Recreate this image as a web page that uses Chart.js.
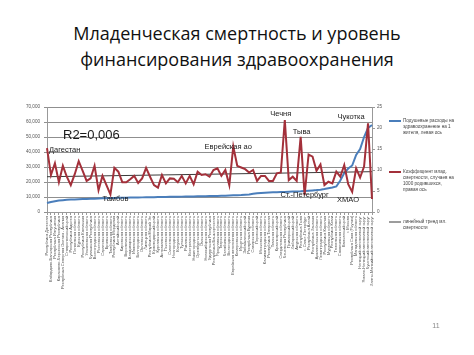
<!DOCTYPE html>
<html>
<head>
<meta charset="utf-8">
<script src="https://cdn.jsdelivr.net/npm/chart.js@4.4.1/dist/chart.umd.min.js"></script>
<style>
    html, body { margin: 0; padding: 0; background: #fff; }
    body { width: 474px; height: 355px; position: relative; overflow: hidden; }
    #title {
        position: absolute; left: 0; top: 20px; width: 474px;
        text-align: center; font-family: "Open Sans", sans-serif;
        font-size: 18px; line-height: 26px; color: #111;
    }
    #chart { position: absolute; left: 0; top: 0; }
</style>
</head>
<body>
<div id="title">Младенческая смертность и уровень<br>финансирования здравоохранения</div>
<canvas id="chart" width="474" height="355"></canvas>
<script>
// Regions, sorted by per-capita health spending
const regions = [
    'Республика Дагестан', 'Кабардино-Балкарская Республика', 'Республика Ингушетия',
    'Карачаево-Черкесская Республика', 'Республика Северная Осетия - Алания', 'Ставропольский край',
    'Республика Адыгея', 'Пензенская область', 'Курская область', 'Республика Калмыкия',
    'Ульяновская область', 'Чувашская Республика', 'Волгоградская область', 'Ростовская область',
    'Саратовская область', 'Брянская область', 'Тамбовская область', 'Республика Мордовия',
    'Алтайский край', 'Кировская область', 'Воронежская область', 'Владимирская область',
    'Ивановская область', 'Белгородская область', 'Орловская область', 'Липецкая область',
    'Республика Марий Эл', 'Краснодарский край', 'Курганская область', 'Астраханская область',
    'Псковская область', 'Смоленская область', 'Новгородская область', 'Калужская область',
    'Тульская область', 'Рязанская область', 'Костромская область', 'Нижегородская область',
    'Оренбургская область', 'Омская область', 'Новосибирская область', 'Удмуртская Республика',
    'Республика Башкортостан', 'Ярославская область', 'Тверская область', 'Челябинская область',
    'Вологодская область', 'Еврейская автономная область', 'Кемеровская область', 'Иркутская область',
    'Забайкальский край', 'Республика Бурятия', 'Самарская область', 'Пермский край',
    'Московская область', 'Калининградская область', 'Республика Татарстан', 'Томская область',
    'Красноярский край', 'Свердловская область', 'Чеченская Республика', 'Приморский край',
    'Хабаровский край', 'Амурская область', 'Республика Тыва', 'г. Санкт-Петербург',
    'Республика Алтай', 'Республика Хакасия', 'Архангельская область', 'Ленинградская область',
    'Республика Карелия', 'Мурманская область', 'Республика Коми', 'Тюменская область',
    'Сахалинская область', 'Камчатский край', 'г. Москва', 'Республика Саха (Якутия)',
    'Магаданская область', 'Ненецкий автономный округ', 'Ямало-Ненецкий автономный округ',
    'Чукотский автономный округ', 'Ханты-Мансийский автономный округ'
];

// Per-capita health spending, rubles (left axis)
const spending = [
    6000, 6700, 7200, 7600, 7900, 8100, 8300, 8400, 8500, 8600,
    8700, 8800, 8900, 9000, 9100, 9200, 9300, 9400, 9450, 9500,
    9550, 9600, 9650, 9700, 9750, 9800, 9850, 9900, 9950, 10000,
    10050, 10100, 10150, 10200, 10250, 10300, 10350, 10400, 10450, 10500,
    10550, 10600, 10650, 10700, 10800, 10900, 11000, 11100, 11200, 11300,
    11500, 11700, 12100, 12500, 12700, 12900, 13000, 13100, 13200, 13300,
    13400, 13500, 13600, 13700, 13800, 14000, 14200, 14400, 14600, 14900,
    15300, 15800, 16300, 17000, 21000, 26000, 29000, 31000, 38000, 42000,
    50000, 56000, 58000
];

// Infant mortality per 1000 births (right axis)
const mortality = [
    15.2, 8.8, 11.6, 7.1, 11.0, 8.4, 6.4, 9.0, 12.1, 9.8,
    7.4, 8.0, 11.0, 5.2, 8.6, 6.4, 4.2, 10.5, 9.6, 7.1,
    7.1, 7.8, 8.6, 6.9, 8.0, 10.5, 8.4, 6.4, 5.8, 8.8,
    6.8, 8.0, 7.9, 7.1, 8.6, 6.8, 8.6, 6.6, 9.6, 8.8,
    9.0, 8.4, 10.0, 10.4, 8.6, 10.0, 6.4, 15.6, 11.0, 10.6,
    10.2, 9.4, 10.0, 7.4, 8.6, 8.6, 7.4, 7.4, 9.2, 9.4,
    21.9, 7.6, 8.4, 7.4, 17.9, 4.0, 13.7, 13.2, 9.8, 11.3,
    6.4, 7.2, 6.8, 9.6, 8.4, 11.2, 6.6, 4.8, 10.4, 8.2,
    10.8, 21.1, 3.1
];

// Linear trend of mortality, read at both ends
const trendEnds = [8.4, 9.6];

const leftTicks = [0, 10000, 20000, 30000, 40000, 50000, 60000, 70000];
const rightTicks = [0, 5, 10, 15, 20, 25];

// Text notes on the plot: [text, region index, right-axis level, x shift, font px, align]
const notes = [
    ['R2=0,006', 0, 18.3, 16, 13, 'left'],
    ['Дагестан', 0, 14.8, 2, 7.5, 'left'],
    ['Тамбов', 16, 3.1, 5, 7.5, 'center'],
    ['Еврейская ао', 47, 15.5, -5, 7.5, 'center'],
    ['Чечня', 60, 23.3, -4, 7.5, 'center'],
    ['Тыва', 64, 19.0, 1, 7.5, 'center'],
    ['Ст.-Петербург', 65, 4.05, 0, 7.5, 'center'],
    ['Чукотка', 81, 22.6, -17, 7.5, 'center'],
    ['ХМАО', 82, 2.86, -24, 7.5, 'center']
];

// Legend entries: colour, line width, row y, text lines
const legendItems = [
    ['#4a7ebb', 2, 121, ['Подушевые расходы на', 'здравоохранение на 1', 'жителя, левая ось']],
    ['#a3303a', 2, 172, ['Коэффициент млад.', 'смертности, случаев на', '1000 родившихся,', 'правая ось']],
    ['#3a3a3a', 1, 222, ['линейный тренд мл.', 'смертности']]
];

const trendData = regions.map(() => null);
trendData[0] = trendEnds[0];
trendData[trendData.length - 1] = trendEnds[1];

const notesPlugin = {
    id: 'notes',
    afterDatasetsDraw(chart) {
        const ctx = chart.ctx;
        const xs = chart.scales.x;
        const ys = chart.scales.y1;
        ctx.save();
        ctx.fillStyle = '#1a1a1a';
        ctx.textBaseline = 'middle';
        notes.forEach(([text, idx, level, dx, size, align]) => {
            ctx.font = `${size}px "Liberation Sans", Arial, sans-serif`;
            ctx.textAlign = align;
            ctx.fillText(text, xs.getPixelForValue(idx) + dx, ys.getPixelForValue(level));
        });
        ctx.restore();
    }
};

const legendPlugin = {
    id: 'sideLegend',
    afterDraw(chart) {
        const ctx = chart.ctx;
        ctx.save();
        ctx.font = '4.6px "Liberation Sans", Arial, sans-serif';
        ctx.textBaseline = 'middle';
        ctx.textAlign = 'left';
        legendItems.forEach(([color, width, y, lines]) => {
            ctx.strokeStyle = color;
            ctx.lineWidth = width;
            ctx.beginPath();
            ctx.moveTo(389, y);
            ctx.lineTo(401, y);
            ctx.stroke();
            ctx.fillStyle = '#444';
            lines.forEach((line, i) => ctx.fillText(line, 403, y + i * 6));
        });
        ctx.font = '7px "Liberation Sans", Arial, sans-serif';
        ctx.fillStyle = '#888';
        ctx.textAlign = 'center';
        ctx.fillText('11', 436, 326);
        ctx.restore();
    }
};

const ctx = document.getElementById('chart').getContext('2d');
new Chart(ctx, {
    type: 'line',
    data: {
        labels: regions,
        datasets: [
            {
                data: mortality,
                yAxisID: 'y1',
                borderColor: '#a3303a',
                borderWidth: 2,
                pointRadius: 0,
                tension: 0
            },
            {
                data: trendData,
                yAxisID: 'y1',
                borderColor: '#3a3a3a',
                borderWidth: 1,
                pointRadius: 0,
                spanGaps: true
            },
            {
                data: spending,
                yAxisID: 'y',
                borderColor: '#4a7ebb',
                borderWidth: 2,
                pointRadius: 0,
                tension: 0
            }
        ]
    },
    options: {
        responsive: false,
        animation: false,
        devicePixelRatio: 1,
        layout: { padding: { left: 20, top: 107, right: 82, bottom: 53 } },
        plugins: { legend: { display: false }, tooltip: { enabled: false } },
        scales: {
            x: {
                offset: false,
                afterFit: s => { s.height = 90; },
                ticks: {
                    autoSkip: false, maxRotation: 90, minRotation: 90,
                    font: { size: 4, family: '"Liberation Sans", Arial, sans-serif' },
                    color: '#555', padding: 1
                },
                grid: { drawOnChartArea: false, tickLength: 3, color: '#999' },
                border: { color: '#999' }
            },
            y: {
                position: 'left',
                min: 0, max: 70000,
                afterFit: s => { s.width = 27; },
                afterBuildTicks: s => { s.ticks = leftTicks.map(v => ({ value: v })); },
                ticks: {
                    callback: v => v.toLocaleString('en-US'),
                    font: { size: 4.6, family: '"Liberation Sans", Arial, sans-serif' },
                    color: '#555', padding: 4
                },
                grid: { color: '#8f8f8f', tickLength: 3 },
                border: { color: '#999' }
            },
            y1: {
                position: 'right',
                min: 0, max: 25,
                afterFit: s => { s.width = 20; },
                afterBuildTicks: s => { s.ticks = rightTicks.map(v => ({ value: v })); },
                ticks: {
                    font: { size: 4.6, family: '"Liberation Sans", Arial, sans-serif' },
                    color: '#555', padding: 2
                },
                grid: { drawOnChartArea: false, tickLength: 3, color: '#999' },
                border: { color: '#999' }
            }
        }
    },
    plugins: [notesPlugin, legendPlugin]
});
</script>
</body>
</html>
